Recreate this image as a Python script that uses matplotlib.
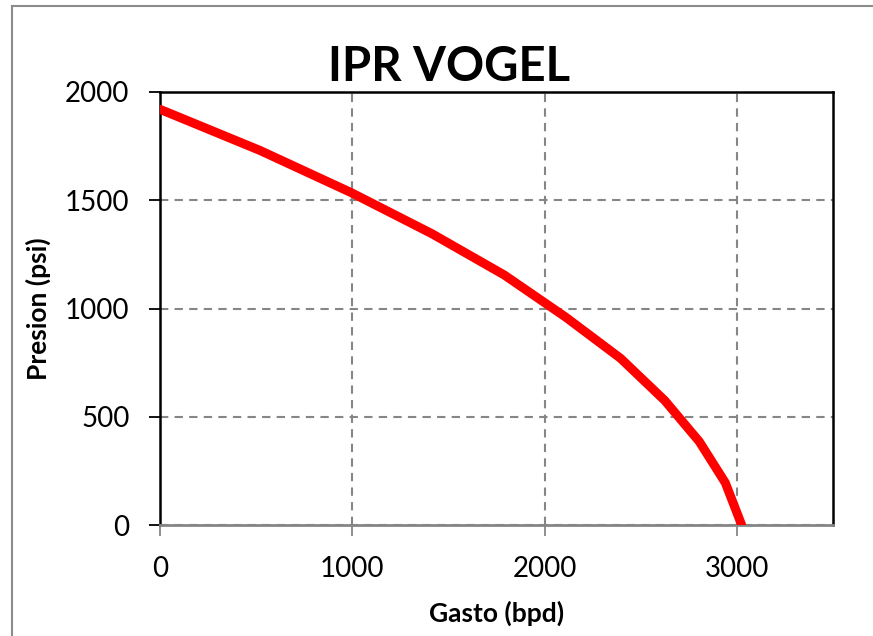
import matplotlib.pyplot as plt
from matplotlib.lines import Line2D

# IPR Vogel curve
gasto = [0, 520, 995, 1415, 1790, 2110, 2395, 2625, 2805, 2940, 3025]
presion = [1920, 1730, 1535, 1345, 1155, 960, 770, 575, 385, 195, 0]
x_ticks = [0, 1000, 2000, 3000]
y_ticks = [0, 500, 1000, 1500, 2000]

plt.rcParams['font.family'] = ['Lato', 'DejaVu Sans']

fig = plt.figure(figsize=(8.73, 6.36), dpi=100)
ax = fig.add_axes([160 / 873, 1 - 525 / 636, (833 - 160) / 873, (525 - 92) / 636])

ax.plot(gasto, presion, color='#ff0000', linewidth=6.5, solid_capstyle='round', zorder=3)

ax.set_xlim(0, 3500)
ax.set_ylim(0, 2000)
ax.set_xticks(x_ticks)
ax.set_yticks(y_ticks)
ax.grid(True, color='#868686', linestyle=(0, (4, 3)), linewidth=1.5)

for side in ['left', 'top', 'right']:
    ax.spines[side].set_color('black')
    ax.spines[side].set_linewidth(1.8)
ax.spines['bottom'].set_color('#868686')
ax.spines['bottom'].set_linewidth(2)

ax.tick_params(axis='y', direction='out', length=8, width=1.3, color='black', labelsize=20, pad=14)
ax.tick_params(axis='x', direction='out', length=8, width=1.3, color='#868686', labelsize=20, pad=14)

ax.set_xlabel('Gasto (bpd)', fontsize=19, fontweight='bold', labelpad=14)
ax.set_ylabel('Presion (psi)', fontsize=19, fontweight='bold', labelpad=10)
fig.text(449 / 873, 1 - 67 / 636, 'IPR VOGEL', ha='center', va='center',
         fontsize=34, fontweight='bold')

# chart area border (gray, left and top visible)
fig.add_artist(Line2D([12 / 873, 12 / 873], [0, 1 - 6 / 636], transform=fig.transFigure,
                      color='#8c8c8c', linewidth=1.5))
fig.add_artist(Line2D([12 / 873, 1], [1 - 6 / 636, 1 - 6 / 636], transform=fig.transFigure,
                      color='#8c8c8c', linewidth=1.5))

plt.savefig('out.png', dpi=100)
